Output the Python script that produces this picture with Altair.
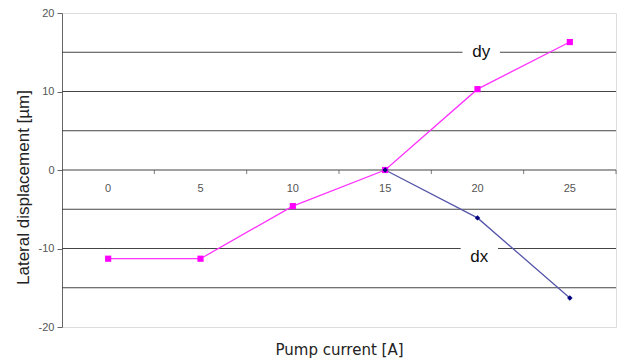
import altair as alt
import pandas as pd

# Measured lateral displacement vs pump current
currents = [0, 5, 10, 15, 20, 25]
dy_values = [-11.3, -11.3, -4.6, 0.0, 10.3, 16.3]
dx_currents = [15, 20, 25]
dx_values = [0.0, -6.1, -16.3]

grid_values = [-15, -10, -5, 0, 5, 10, 15]
band_edges = [2.5, 7.5, 12.5, 17.5, 22.5, 27.5]

series_labels = ["dy", "dx"]
series_label_x = [20.2, 20.1]
series_label_y = [15, -11.1]

FONT = "Liberation Sans"
X_DOMAIN = [-2.5, 27.5]
Y_DOMAIN = [-20, 20]

dy_df = pd.DataFrame({"current": currents, "disp": dy_values})
dx_df = pd.DataFrame({"current": dx_currents, "disp": dx_values})
grid_df = pd.DataFrame({"v": grid_values})
edge_df = pd.DataFrame({"e": band_edges, "zero": [0] * len(band_edges)})
cat_df = pd.DataFrame({"current": currents, "zero": [0] * len(currents),
                       "lab": [str(c) for c in currents]})
lab_df = pd.DataFrame({"x": series_label_x, "y": series_label_y, "t": series_labels})

xs = alt.Scale(domain=X_DOMAIN, nice=False, zero=False)
ys = alt.Scale(domain=Y_DOMAIN, nice=False)

x_axis = alt.Axis(labels=False, ticks=False, domain=False, grid=False,
                  title="Pump current [A]", titleFont="DejaVu Sans", titleFontSize=15,
                  titleFontWeight="normal", titleColor="#222",
                  titleY=22, titleBaseline="middle")
y_axis = alt.Axis(values=[-20, -15, -10, -5, 0, 5, 10, 15, 20], grid=False,
                  labelExpr="'' + datum.value",
                  domainColor="#666", tickColor="#666", tickSize=5,
                  labelFont=FONT, labelFontSize=11, labelColor="#555", labelPadding=3,
                  title="Lateral displacement [µm]", titleFont=FONT, titleFontSize=17,
                  titleFontWeight="normal", titleColor="#222",
                  titleX=-39, titleY=174, titleAngle=-90, titleAlign="center",
                  titleBaseline="middle")

grid = alt.Chart(grid_df).mark_rule(color="#444", strokeWidth=1.2).encode(
    y=alt.Y("v:Q", scale=ys, axis=y_axis),
    x=alt.value(0), x2=alt.value(554),
)

# small downward ticks on the zero line between categories
tick_marks = alt.Chart(edge_df).mark_tick(color="#444", thickness=1, size=4,
                                          orient="vertical", yOffset=2).encode(
    x=alt.X("e:Q", scale=xs, axis=x_axis),
    y=alt.Y("zero:Q", scale=ys),
)

cat_labels = alt.Chart(cat_df).mark_text(font=FONT, fontSize=11, color="#555",
                                         dy=19, baseline="middle").encode(
    x=alt.X("current:Q", scale=xs),
    y=alt.Y("zero:Q", scale=ys),
    text="lab:N",
)

dy_line = alt.Chart(dy_df).mark_line(color="#ff33ff", strokeWidth=1.3).encode(
    x=alt.X("current:Q", scale=xs), y=alt.Y("disp:Q", scale=ys))
dy_pts = alt.Chart(dy_df).mark_point(shape="square", filled=True, size=38,
                                     color="#ff00ff", opacity=1).encode(
    x=alt.X("current:Q", scale=xs), y=alt.Y("disp:Q", scale=ys))

dx_line = alt.Chart(dx_df).mark_line(color="#5555aa", strokeWidth=1.3).encode(
    x=alt.X("current:Q", scale=xs), y=alt.Y("disp:Q", scale=ys))
dx_pts = alt.Chart(dx_df).mark_point(shape="diamond", filled=True, size=30,
                                     color="#000080", opacity=1).encode(
    x=alt.X("current:Q", scale=xs), y=alt.Y("disp:Q", scale=ys))

# white boxes behind the series names
lab_bg = alt.Chart(lab_df).mark_point(
    shape="M-1,-0.75L1,-0.75L1,0.75L-1,0.75Z", filled=True, color="white",
    fill="white", strokeWidth=0, opacity=1, size=1400).encode(
    x=alt.X("x:Q", scale=xs), y=alt.Y("y:Q", scale=ys))
lab_text = alt.Chart(lab_df).mark_text(font=FONT, fontSize=17, color="#111",
                                       baseline="middle").encode(
    x=alt.X("x:Q", scale=xs), y=alt.Y("y:Q", scale=ys), text="t:N")

chart = alt.layer(
    grid, tick_marks, lab_bg, cat_labels,
    dy_line, dx_line, dy_pts, dx_pts, lab_text,
).properties(
    width=554, height=314,
    autosize=alt.AutoSizeParams(type="none"),
    padding={"left": 62, "top": 13, "right": 4, "bottom": 36},
).configure_view(
    stroke="#bbb", strokeWidth=1,
).configure(background="white")

chart.save("out.html", embed_options={"renderer": "svg", "actions": False})
